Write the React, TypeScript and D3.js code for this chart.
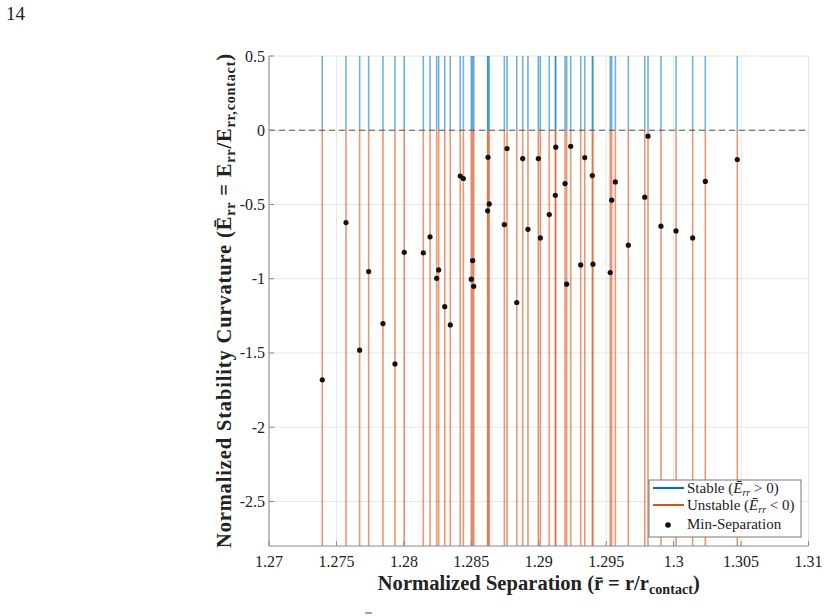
import React from "react";
import * as d3 from "d3";

const sepX: number[] = [
  1.27395, 1.27571, 1.27672, 1.27739, 1.27845, 1.27934, 1.28003, 1.28144, 1.28194, 1.28243,
  1.28258, 1.28303, 1.28344, 1.28418, 1.28441, 1.285, 1.2851, 1.28518, 1.28621, 1.28624,
  1.28633, 1.28745, 1.28765, 1.28837, 1.28881, 1.2892, 1.28997, 1.29012, 1.29078, 1.29123,
  1.29126, 1.29195, 1.29207, 1.29237, 1.29311, 1.29341, 1.29397, 1.29402, 1.2953, 1.29541,
  1.29568, 1.29664, 1.29786, 1.2981, 1.29906, 1.30018, 1.30141, 1.30235, 1.30472,
];
const minCurv: number[] = [
  -1.681, -0.622, -1.481, -0.952, -1.302, -1.574, -0.822, -0.826, -0.718, -0.997,
  -0.941, -1.188, -1.311, -0.308, -0.325, -1.003, -0.878, -1.051, -0.543, -0.182,
  -0.496, -0.635, -0.123, -1.16, -0.191, -0.667, -0.191, -0.725, -0.568, -0.438,
  -0.114, -0.359, -1.037, -0.108, -0.907, -0.184, -0.305, -0.902, -0.958, -0.471,
  -0.348, -0.774, -0.451, -0.04, -0.646, -0.678, -0.725, -0.345, -0.197,
];
const xTicks: number[] = [1.27, 1.275, 1.28, 1.285, 1.29, 1.295, 1.3, 1.305, 1.31];
const yTicks: number[] = [0.5, 0, -0.5, -1, -1.5, -2, -2.5];
const xDomain: [number, number] = [1.27, 1.31];
const yDomain: [number, number] = [-2.8, 0.5];

const BLUE = "#0072BD";
const ORANGE = "#D95319";
const FONT = "'Liberation Serif', 'DejaVu Serif', serif";

export default function App() {
  const left = 269, right = 808.5, top = 56, bottom = 546;
  const x = d3.scaleLinear().domain(xDomain).range([left, right]);
  const y = d3.scaleLinear().domain(yDomain).range([bottom, top]);
  const fmt = (v: number) => String(+v.toFixed(3));

  return (
    <svg width={828} height={616} style={{ position: "absolute", left: 0, top: 0, background: "#fff" }} fontFamily={FONT}>
      <rect x={0} y={0} width={828} height={616} fill="#fff" />
      <text x={6} y={20} fontSize={19} fill="#222">14</text>

      {/* grid */}
      {xTicks.map((t) => (
        <line key={"gx" + t} x1={x(t)} x2={x(t)} y1={top} y2={bottom} stroke="#e6e6e6" strokeWidth={1} />
      ))}
      {yTicks.map((t) => (
        <line key={"gy" + t} x1={left} x2={right} y1={y(t)} y2={y(t)} stroke="#e6e6e6" strokeWidth={1} />
      ))}

      {/* stable segments */}
      {sepX.map((v, i) => (
        <line key={"b" + i} x1={x(v)} x2={x(v)} y1={y(0.5)} y2={y(0)} stroke={BLUE} strokeOpacity={0.55} strokeWidth={1.6} />
      ))}
      {/* unstable segments */}
      {sepX.map((v, i) => (
        <line key={"o" + i} x1={x(v)} x2={x(v)} y1={y(0)} y2={y(yDomain[0])} stroke={ORANGE} strokeOpacity={0.6} strokeWidth={1.6} />
      ))}

      {/* zero line */}
      <line x1={left} x2={right} y1={y(0)} y2={y(0)} stroke="#555" strokeWidth={1.2} strokeDasharray="6,4" />

      {/* dots */}
      {sepX.map((v, i) => (
        <circle key={"d" + i} cx={x(v)} cy={y(minCurv[i])} r={2.6} fill="#111" />
      ))}

      {/* axes */}
      <line x1={left} x2={left} y1={top} y2={bottom} stroke="#888" strokeWidth={1} />
      <line x1={left} x2={right} y1={bottom} y2={bottom} stroke="#888" strokeWidth={1} />
      {xTicks.map((t) => (
        <g key={"tx" + t}>
          <line x1={x(t)} x2={x(t)} y1={bottom} y2={bottom - 5} stroke="#888" />
          <text x={x(t)} y={bottom + 21} textAnchor="middle" fontSize={16} fill="#222">{fmt(t)}</text>
        </g>
      ))}
      {yTicks.map((t) => (
        <g key={"ty" + t}>
          <line x1={left} x2={left + 5} y1={y(t)} y2={y(t)} stroke="#888" />
          <text x={left - 4} y={y(t) + 5.5} textAnchor="end" fontSize={16} fill="#222">{fmt(t)}</text>
        </g>
      ))}

      {/* x label */}
      <text x={(left + right) / 2} y={590} textAnchor="middle" fontSize={20.5} fontWeight="bold" fill="#222"
        textLength={322} lengthAdjust="spacing">
        Normalized Separation (r̄ = r/r<tspan fontSize={14} dy={4}>contact</tspan><tspan dy={-4}>)</tspan>
      </text>

      {/* y label */}
      <text transform={`translate(231,${(top + bottom) / 2}) rotate(-90)`} textAnchor="middle" fontSize={20.5} fontWeight="bold" fill="#222"
        textLength={494} lengthAdjust="spacing">
        Normalized Stability Curvature (Ē<tspan fontSize={14} dy={4}>rr</tspan><tspan dy={-4}> = E</tspan><tspan fontSize={14} dy={4}>rr</tspan><tspan dy={-4}>/E</tspan><tspan fontSize={14} dy={4}>rr,contact</tspan><tspan dy={-4}>)</tspan>
      </text>

      {/* legend */}
      <g>
        <rect x={649} y={480} width={152} height={57} fill="#fff" stroke="#777" strokeWidth={1} />
        <line x1={653} x2={684} y1={488} y2={488} stroke={BLUE} strokeWidth={2} />
        <text x={687} y={493} fontSize={15} fill="#222">
          Stable (<tspan fontStyle="italic">Ē</tspan><tspan fontStyle="italic" fontSize={10} dy={2.5}>rr</tspan><tspan dy={-2.5}> &gt; 0)</tspan>
        </text>
        <line x1={653} x2={684} y1={505} y2={505} stroke={ORANGE} strokeWidth={2} />
        <text x={687} y={510} fontSize={15} fill="#222">
          Unstable (<tspan fontStyle="italic">Ē</tspan><tspan fontStyle="italic" fontSize={10} dy={2.5}>rr</tspan><tspan dy={-2.5}> &lt; 0)</tspan>
        </text>
        <circle cx={668} cy={525} r={2.8} fill="#111" />
        <text x={687} y={529} fontSize={15} fill="#222">Min-Separation</text>
      </g>

      {/* clipped caption fragment */}
      <line x1={365} x2={372} y1={613} y2={613} stroke="#444" strokeWidth={1} />
    </svg>
  );
}
